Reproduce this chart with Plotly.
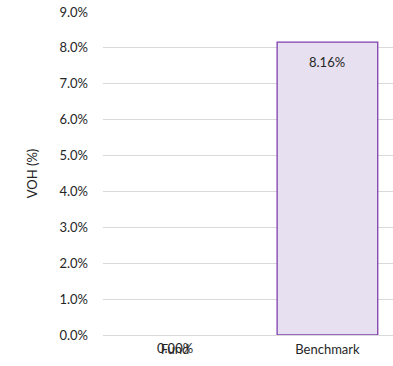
import plotly.graph_objects as go

# VOH share by portfolio, in percent
categories = ["Fund", "Benchmark"]
voh_pct = [0.00, 8.16]
y_ticks = [0, 1, 2, 3, 4, 5, 6, 7, 8, 9]

FONT = "Lato, 'Open Sans', sans-serif"
TEXT = "#262626"
SIZE = 13

fig = go.Figure(
    go.Bar(
        x=categories,
        y=voh_pct,
        width=0.66,
        marker=dict(
            color="#E6E0F0",
            # no outline for an empty (zero-height) bar
            line=dict(color="#7F3FAF", width=[1.3 if v > 0 else 0 for v in voh_pct]),
        ),
        hoverinfo="skip",
    )
)

# value labels: inside near the top for a visible bar, at the baseline for zero
for cat, val in zip(categories, voh_pct):
    fig.add_annotation(
        x=cat,
        y=val,
        text=f"{val:.2f}%",
        showarrow=False,
        yanchor="middle",
        yshift=-20 if val > 0 else -13,
        font=dict(family=FONT, size=SIZE, color=TEXT),
    )

fig.update_layout(
    width=393,
    height=366,
    margin=dict(l=103, r=0, t=12, b=31),
    paper_bgcolor="white",
    plot_bgcolor="white",
    showlegend=False,
    font=dict(family=FONT, size=SIZE, color=TEXT),
)

fig.update_xaxes(
    type="category",
    range=[-0.472, 1.43],
    showgrid=False,
    showline=False,
    zeroline=False,
    ticks="",
    ticklabelstandoff=5,
    tickfont=dict(family=FONT, size=SIZE, color=TEXT),
)

fig.update_yaxes(
    range=[0, 9],
    tickvals=y_ticks,
    ticktext=[f"{v:.1f}%" for v in y_ticks],
    showgrid=True,
    gridcolor="#D9D9D9",
    gridwidth=1,
    zeroline=True,
    zerolinecolor="#D9D9D9",
    zerolinewidth=1,
    showline=False,
    ticks="",
    ticklabelstandoff=14,
    tickfont=dict(family=FONT, size=SIZE, color=TEXT),
    title=dict(text="VOH (%)", standoff=18, font=dict(family=FONT, size=SIZE, color=TEXT)),
)

fig.write_html("out.html")
